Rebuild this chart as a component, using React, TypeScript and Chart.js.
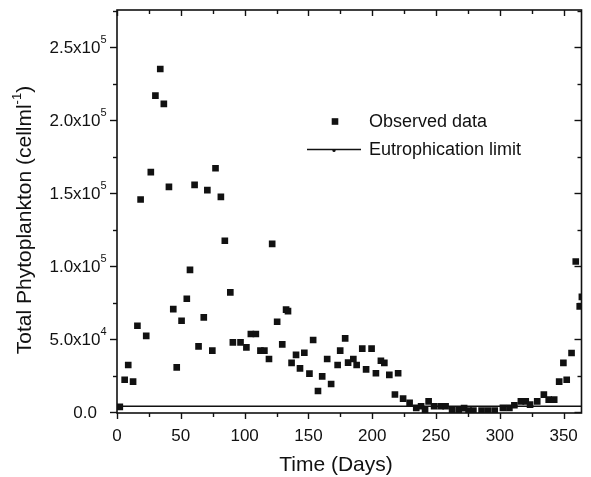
import React, { useEffect, useRef } from 'react';
import { Chart, registerables } from 'chart.js';

Chart.register(...registerables);

// ---- data ----
const observedDays: number[] = [
  2.2, 6.0, 8.8, 12.6, 16.0, 18.5, 22.9, 26.5, 30.1, 33.9, 36.7, 40.7, 44.1, 46.8, 50.6,
  54.7, 57.2, 60.8, 63.9, 68.0, 70.8, 74.7, 77.2, 81.4, 84.5, 88.8, 90.8, 96.8, 101.4,
  104.9, 108.8, 112.4, 115.5, 119.1, 121.6, 125.5, 129.5, 132.5, 134.0, 136.8, 140.3,
  143.4, 146.8, 150.8, 153.7, 157.5, 160.8, 164.7, 167.8, 172.9, 174.9, 178.8, 181.1,
  185.2, 187.8, 192.2, 195.2, 199.5, 202.9, 206.8, 209.5, 213.4, 217.8, 220.3, 224.2,
  229.3, 234.5, 238.3, 241.4, 244.2, 248.5, 253.7, 257.5, 262.6, 267.8, 272.0, 275.5,
  279.3, 285.7, 290.8, 296.0, 302.4, 307.5, 311.4, 316.5, 320.3, 323.7, 329.3, 334.5,
  338.3, 342.6, 346.5, 349.8, 352.4, 356.2, 359.5, 362.6, 364.3,
];
const observedValues: number[] = [
  3600, 22200, 32300, 20900, 59200, 145700, 52200, 164400, 216800, 235100, 211200, 154300,
  70600, 30700, 62600, 77700, 97500, 155700, 45000, 64900, 152100, 42100, 167100, 147500,
  117400, 82000, 47800, 47800, 44400, 53500, 53500, 42100, 42100, 36400, 115300, 61900,
  46400, 70200, 69200, 33700, 39200, 30000, 40700, 26400, 49400, 14500, 24500, 36400,
  19300, 32300, 42100, 50500, 33900, 36400, 32300, 43500, 29300, 43500, 26600, 35200,
  33700, 25500, 12100, 26600, 9200, 6300, 2900, 4000, 1700, 7400, 4000, 4000, 4000, 1700,
  1700, 2700, 1000, 1000, 1000, 1000, 1000, 2900, 2900, 4700, 7400, 7400, 5100, 7400,
  12000, 8600, 8600, 20900, 33700, 22200, 40500, 103200, 72400, 79000,
];
const limitDays: number[] = [0, 364];
const limitValues: number[] = [4000, 4000];

const xTickValues: number[] = [0, 50, 100, 150, 200, 250, 300, 350];
const yTickValues: number[] = [0, 50000, 100000, 150000, 200000, 250000];
const yTickMantissas: string[] = ['0.0', '5.0', '1.0', '1.5', '2.0', '2.5'];
const yTickExponents: string[] = ['', '4', '5', '5', '5', '5'];

const xTitle = 'Time (Days)';
const yTitleMain = 'Total Phytoplankton (cellml';
const yTitleSup = '-1';
const yTitleEnd = ')';

const FONT = '"Liberation Sans", Arial, Helvetica, sans-serif';
const INK = '#111';

const decorPlugin = {
  id: 'decor',
  afterDatasetsDraw(chart: any) {
    const { ctx, chartArea: a, scales } = chart;
    const x = scales.x;
    const y = scales.y;
    ctx.save();
    ctx.strokeStyle = INK;
    ctx.fillStyle = INK;
    ctx.lineWidth = 1.6;
    ctx.strokeRect(a.left, a.top, a.right - a.left, a.bottom - a.top);

    const seg = (x1: number, y1: number, x2: number, y2: number) => {
      ctx.beginPath();
      ctx.moveTo(x1, y1);
      ctx.lineTo(x2, y2);
      ctx.stroke();
    };
    ctx.lineWidth = 1.4;
    // x ticks: majors every 50, minors at 25
    for (let v = 0; v <= x.max; v += 25) {
      const px = Math.round(x.getPixelForValue(v)) + 0.5;
      const len = v % 50 === 0 ? 6 : 4;
      seg(px, a.bottom, px, a.bottom + len);
      seg(px, a.top, px, a.top + len);
    }
    // y ticks
    for (let v = 0; v <= y.max; v += 25000) {
      const py = Math.round(y.getPixelForValue(v)) + 0.5;
      const len = v % 50000 === 0 ? 7 : 4;
      seg(a.left - len, py, a.left, py);
      seg(a.right - len, py, a.right, py);
    }

    // y tick labels with superscript exponents
    ctx.textBaseline = 'middle';
    yTickValues.forEach((v, i) => {
      const py = y.getPixelForValue(v);
      const exp = yTickExponents[i];
      const base = exp ? yTickMantissas[i] + 'x10' : yTickMantissas[i];
      ctx.font = `17px ${FONT}`;
      ctx.textAlign = 'right';
      const bx = exp ? 100.5 : 97;
      ctx.fillText(base, bx, py + 1.5);
      if (exp) {
        ctx.font = `11px ${FONT}`;
        ctx.textAlign = 'left';
        ctx.fillText(exp, bx, py - 7);
      }
    });

    // x title
    ctx.font = `21px ${FONT}`;
    ctx.textAlign = 'center';
    ctx.textBaseline = 'middle';
    ctx.fillText(xTitle, 336, 465);

    // y title (rotated) with superscript
    ctx.save();
    ctx.translate(25, 220);
    ctx.rotate(-Math.PI / 2);
    ctx.font = `21px ${FONT}`;
    const w1 = ctx.measureText(yTitleMain).width;
    const w3 = ctx.measureText(yTitleEnd).width;
    ctx.font = `13px ${FONT}`;
    const w2 = ctx.measureText(yTitleSup).width;
    let cx = -(w1 + w2 + w3) / 2;
    ctx.textAlign = 'left';
    ctx.textBaseline = 'middle';
    ctx.font = `21px ${FONT}`;
    ctx.fillText(yTitleMain, cx, 0);
    cx += w1;
    ctx.font = `13px ${FONT}`;
    ctx.fillText(yTitleSup, cx, -8);
    cx += w2;
    ctx.font = `21px ${FONT}`;
    ctx.fillText(yTitleEnd, cx, 0);
    ctx.restore();

    // legend
    const ds = chart.data.datasets;
    ctx.fillRect(335 - 3.3, 121.5 - 3.3, 6.6, 6.6);
    ctx.lineWidth = 1.5;
    seg(307, 149.5, 361, 149.5);
    ctx.beginPath();
    ctx.arc(334, 150.5, 1.6, 0, Math.PI * 2);
    ctx.fill();
    ctx.font = `18px ${FONT}`;
    ctx.textAlign = 'left';
    ctx.textBaseline = 'middle';
    ctx.fillText(ds[0].label, 369, 122);
    ctx.fillText(ds[1].label, 369, 150);
    ctx.restore();
  },
};

export default function App() {
  const canvasRef = useRef<HTMLCanvasElement | null>(null);

  useEffect(() => {
    const canvas = canvasRef.current;
    if (!canvas) return;
    const chart = new Chart(canvas, {
      type: 'scatter',
      data: {
        datasets: [
          {
            label: 'Observed data',
            data: observedDays.map((d, i) => ({ x: d, y: observedValues[i] })),
            pointStyle: 'rect',
            pointRadius: 4.7,
            pointHoverRadius: 4.7,
            backgroundColor: INK,
            borderColor: INK,
            borderWidth: 0,
            showLine: false,
          },
          {
            label: 'Eutrophication limit',
            data: limitDays.map((d, i) => ({ x: d, y: limitValues[i] })),
            showLine: true,
            borderColor: INK,
            borderWidth: 1.5,
            pointRadius: 0,
            backgroundColor: INK,
          },
        ],
      },
      options: {
        responsive: false,
        animation: false,
        devicePixelRatio: 1,
        layout: { padding: { top: 10, right: 1, left: 0, bottom: 0 } },
        plugins: {
          legend: { display: false },
          tooltip: { enabled: false },
          title: { display: false },
        },
        scales: {
          x: {
            type: 'linear',
            min: 0,
            max: 364,
            grid: { display: false, drawTicks: false, tickLength: 0 },
            border: { display: false },
            afterBuildTicks: (scale: any) => {
              scale.ticks = xTickValues.map((v) => ({ value: v }));
            },
            afterFit: (scale: any) => {
              scale.height = 64;
            },
            ticks: {
              padding: 13,
              color: INK,
              font: { family: FONT, size: 17 },
              maxRotation: 0,
              autoSkip: false,
            },
          },
          y: {
            type: 'linear',
            min: -600,
            max: 275500,
            grid: { display: false, drawTicks: false, tickLength: 0 },
            border: { display: false },
            afterBuildTicks: (scale: any) => {
              scale.ticks = yTickValues.map((v) => ({ value: v }));
            },
            afterFit: (scale: any) => {
              scale.width = 117;
            },
            ticks: { display: false },
          },
        },
      },
      plugins: [decorPlugin],
    });
    return () => chart.destroy();
  }, []);

  return (
    <div style={{ position: 'fixed', left: 0, top: 0, width: 591, height: 477, background: '#fff' }}>
      <canvas ref={canvasRef} width={591} height={477} />
    </div>
  );
}
